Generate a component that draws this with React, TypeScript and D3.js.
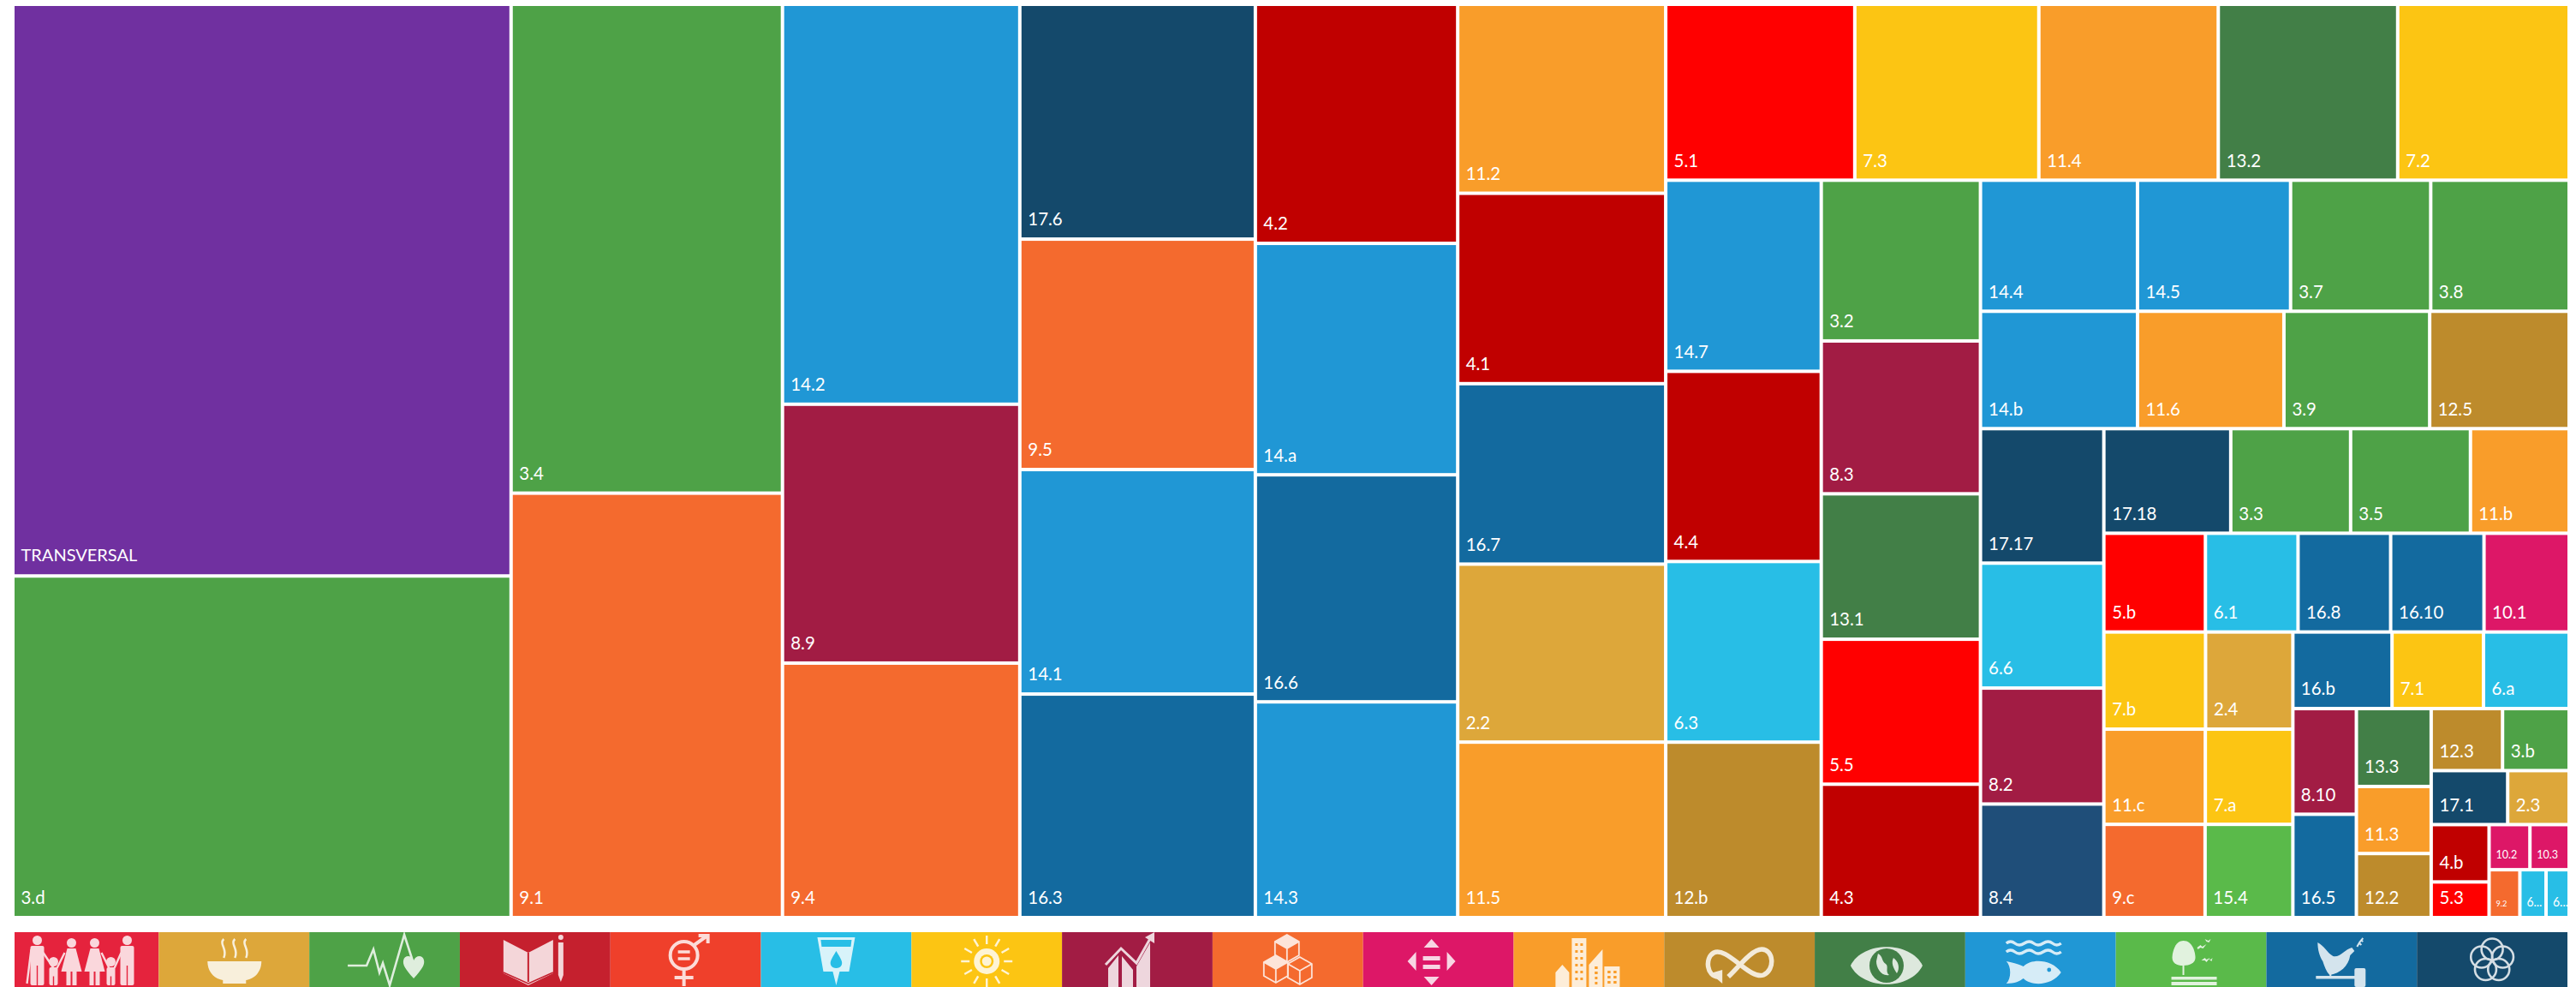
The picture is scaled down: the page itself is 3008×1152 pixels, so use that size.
import React from 'react';
import * as d3 from 'd3';

// goal numbers, with the colours of the tree cells and of the icon strip
const goals = ['1', '2', '3', '4', '5', '6', '7', '8', '9', '10', '11', '12', '13', '14', '15', '16', '17'];
const cellColors = ['#E5233D', '#DDA73A', '#4EA247', '#C00000', '#FF0000', '#28BEE6', '#FCC513', '#A21C44', '#F46A2E', '#DD1767', '#F99D2A', '#BD8B2C', '#427F47', '#2097D5', '#5ABA4A', '#136A9F', '#14496B'];
const iconColors = ['#E5233D', '#DDA73A', '#4EA247', '#C5202E', '#EF402B', '#28BEE6', '#FCC513', '#A21C44', '#F46A2E', '#DD1767', '#F99D2A', '#BD8B2C', '#427F47', '#2097D5', '#5ABA4A', '#136A9F', '#14496B'];
const transversalColor = '#7030A0';
const specialCells = { '8.4': '#1F4E79' };
const smallLabels = { '10.2': 13.5, '10.3': 13.5, '9.2': 10, '6...': 15 };

// nesting of the cells, columns and rows alternate at each level
const nesting = [
  ['TRANSVERSAL', '3.d'],
  ['3.4', '9.1'],
  ['14.2', '8.9', '9.4'],
  ['17.6', '9.5', '14.1', '16.3'],
  ['4.2', '14.a', '16.6', '14.3'],
  ['11.2', '4.1', '16.7', '2.2', '11.5'],
  [
    ['5.1', '7.3', '11.4', '13.2', '7.2'],
    [
      ['14.7', '4.4', '6.3', '12.b'],
      ['3.2', '8.3', '13.1', '5.5', '4.3'],
      [
        ['14.4', '14.5', '3.7', '3.8'],
        ['14.b', '11.6', '3.9', '12.5'],
        [
          ['17.17', '6.6', '8.2', '8.4'],
          [
            ['17.18', '3.3', '3.5', '11.b'],
            ['5.b', '6.1', '16.8', '16.10', '10.1'],
            [
              [['7.b', '2.4'], ['11.c', '7.a'], ['9.c', '15.4']],
              [
                ['16.b', '7.1', '6.a'],
                [
                  ['8.10', '16.5'],
                  ['13.3', '11.3', '12.2'],
                  [
                    ['12.3', '3.b'],
                    ['17.1', '2.3'],
                    [['4.b', '5.3'], [['10.2', '10.3'], ['9.2', '6...', '6...']]],
                  ],
                ],
              ],
            ],
          ],
        ],
      ],
    ],
  ],
];

// cell sizes, same order as the labels in nesting
const columnValues = [3862, 2308, 1799, 1562, 1287, 833, 819, 750, 736, 717, 714, 656, 635, 623, 592, 533, 537, 509, 502, 495];
const topRowValues = [451, 439, 428, 428, 409];
const middleValues = [403, 401, 381, 370, 347, 330, 314, 313, 288];
const rowValues = [279, 272, 249, 246, 250, 233, 232, 222];
const narrowValues = [225, 209, 194, 190, 180, 170, 170, 140, 136, 124, 124, 125, 114];
const lowerValues = [134, 115, 131, 113, 128, 111, 103, 95, 89, 91, 89, 79, 68, 65];
const tinyValues = [60, 56, 56, 45, 45, 28, 25, 24, 20, 17, 15];
const values = [...columnValues, ...topRowValues, ...middleValues, ...rowValues, ...narrowValues, ...lowerValues, ...tinyValues];

let cursor = 0;
const build = (n) => (Array.isArray(n) ? { children: n.map(build) } : { label: n, value: values[cursor++] });
const root = d3.hierarchy(build(nesting)).sum((d) => d.value || 0);
d3.treemap().tile(d3.treemapSliceDice).size([2981, 1062]).paddingInner(4)(root);

const color = d3.scaleOrdinal(goals, cellColors);
const cellFill = (label) => {
  if (label === 'TRANSVERSAL') return transversalColor;
  return specialCells[label] || color(label.split('.')[0]);
};

// strip of goal icons under the chart
const stripTop = 1088;
const stripBottom = 1152;
const stripX = d3.scaleBand(goals, [9.6, 2998]);

const Person = ({ x, top, w, dress, bg }) => {
  const r = w < 10 ? 4.5 : 5.5;
  const bodyTop = top + r * 2 + 1;
  return (
    <g>
      <circle cx={x} cy={top + r} r={r} />
      {dress ? (
        <>
          <path d={`M${x - 5} ${bodyTop}H${x + 5}L${x + 12} ${bodyTop + 27}H${x - 12}Z`} />
          <rect x={x - 6} y={bodyTop + 27} width={5} height={62 - bodyTop - 27} />
          <rect x={x + 1} y={bodyTop + 27} width={5} height={62 - bodyTop - 27} />
        </>
      ) : (
        <>
          <rect x={x - w / 2} y={bodyTop} width={w} height={62 - bodyTop} rx={2} />
          <rect x={x - 0.7} y={bodyTop + (62 - bodyTop) * 0.5} width={1.4} height={(62 - bodyTop) * 0.5} fill={bg} />
        </>
      )}
    </g>
  );
};

const Family = ({ bg }) => (
  <g>
    <Person x={-54} top={4} w={16} bg={bg} />
    <Person x={-35} top={29} w={10} bg={bg} />
    <Person x={-14} top={7} dress w={12} bg={bg} />
    <Person x={13} top={7} dress w={12} bg={bg} />
    <Person x={32} top={29} w={10} bg={bg} />
    <Person x={51} top={4} w={16} bg={bg} />
    <path d="M-47 24L-35 42M-22 24L-31 42M21 24L30 42M44 24L36 42M-61 20L-66 60" fill="none" stroke="#fff" strokeWidth={2.4} />
  </g>
);

const Bowl = () => (
  <g>
    {[-12, 1, 14].map((x) => (
      <path key={x} d={`M${x} 8C${x - 6} 14 ${x + 5} 20 ${x} 30`} fill="none" stroke="#fff" strokeWidth={2.5} />
    ))}
    <path d="M-31 34H32C32 48 22 55 14 56V60H-13V56C-21 55 -31 48 -31 34Z" />
  </g>
);

const Pulse = () => (
  <g>
    <path d="M-43 39H-21L-13 20L-6 47L-2 36L6 62L23 3L33 34" fill="none" stroke="#fff" strokeWidth={2.6} />
    <path d="M34 54C24 43 21 38 22 33C23 27 31 26 34 33C37 26 45 27 46 33C47 38 44 43 34 54Z" />
  </g>
);

const Book = ({ bg }) => (
  <g>
    <path d="M-37 9L-8 24L21 9V48L-8 62L-37 48Z" />
    <path d="M-8 24V58" stroke={bg} strokeWidth={2} fill="none" />
    <path d="M-37 47L-8 60L21 47" stroke={bg} strokeWidth={1.4} fill="none" />
    <circle cx={30} cy={6} r={3} />
    <path d="M27 12H33V50L30 58L27 50Z" />
  </g>
);

const Gender = () => (
  <g fill="none" stroke="#fff" strokeWidth={4}>
    <circle cx={-2} cy={27} r={16} />
    <path d="M10 15L24 5M15 4H26V13M-2 43V63M-13 53H9" />
    <path d="M-9 23H5M-9 31H5" strokeWidth={3.5} />
  </g>
);

const Water = ({ bg }) => (
  <g>
    <path d="M-22 6H22L15 46H4L0 62L-4 46H-15Z" />
    <path d="M-18 9H18L17 17H-17Z" fill={bg} />
    <path d="M0 22C-6 32 -8 35 -6 39C-4 43 4 43 6 39C8 35 6 32 0 22Z" fill={bg} />
  </g>
);

const Sun = ({ bg }) => (
  <g>
    <circle cx={0} cy={34} r={15} />
    <circle cx={0} cy={34} r={8} fill={bg} />
    <circle cx={0} cy={34} r={5.5} />
    {d3.range(12).map((i) => {
      const a = (i * Math.PI) / 6;
      return <path key={i} d={`M${Math.sin(a) * 20} ${34 - Math.cos(a) * 20}L${Math.sin(a) * 30} ${34 - Math.cos(a) * 30}`} stroke="#fff" strokeWidth={2.5} />;
    })}
  </g>
);

const Growth = () => (
  <g>
    <path d="M-34 42L-22 27V64H-34ZM-18 28L-5 44V64H-18ZM-1 40L15 12V64H-1Z" />
    <path d="M-37 38L-19 19L-1 36L17 4" fill="none" stroke="#fff" strokeWidth={3} />
    <path d="M9 6L20 0L20 13Z" />
  </g>
);

const Cube = ({ x, y, solid }) => (
  <g transform={`translate(${x},${y})`}>
    <path d="M0 -16L14 -8V8L0 16L-14 8V-8Z" fill="none" stroke="#fff" strokeWidth={1.8} />
    <path d="M-14 -8L0 0L14 -8M0 0V16" fill="none" stroke="#fff" strokeWidth={1.8} />
    {solid && <path d="M0 -16L14 -8L0 0L-14 -8Z" />}
  </g>
);

const Cubes = () => (
  <g>
    <Cube x={-1} y={19} solid />
    <Cube x={-14} y={43} solid />
    <Cube x={14} y={45} />
  </g>
);

const Arrows = () => (
  <g transform="translate(-8,0)">
    <path d="M0 8L9 18H-9ZM0 62L-9 52H9ZM-28 34L-18 23V45ZM28 34L18 23V45Z" />
    <rect x={-10} y={28} width={20} height={5} />
    <rect x={-10} y={38} width={20} height={5} />
  </g>
);

const City = ({ bg }) => (
  <g>
    <path d="M-39 64V47L-31 38L-23 47V64ZM-20 7H-3V64H-20ZM0 64V38L16 20V64ZM18 64V40H36V64Z" />
    {d3.range(6).map((i) => (
      <path key={i} d={`M-16 ${13 + i * 8}h3v3h-3ZM-10 ${13 + i * 8}h3v3h-3ZM22 ${45 + (i % 3) * 6}h3v3h-3ZM29 ${45 + (i % 3) * 6}h3v3h-3ZM7 ${40 + (i % 4) * 6}h3v3h-3Z`} fill={bg} />
    ))}
  </g>
);

const Infinity_ = () => (
  <g>
    <path d="M-25 52C-38 52 -41 30 -30 24C-15 16 12 56 28 50C42 44 40 20 26 20C14 20 -2 42 -13 52" fill="none" stroke="#fff" strokeWidth={5.5} />
    <path d="M-34 48L-20 44L-20 60Z" />
  </g>
);

const EyeGlobe = ({ bg }) => (
  <g transform="translate(-4,0)">
    <path d="M-42 39C-28 10 28 10 42 39C28 68 -28 68 -42 39Z" />
    <circle cx={0} cy={39} r={20} fill={bg} />
    <path d="M-10 25C-4 28 -6 34 -1 37C3 40 -2 46 3 50C-6 52 -12 42 -12 34ZM8 30C14 34 16 42 12 48C8 42 5 36 8 30Z" />
  </g>
);

const Fish = ({ bg }) => (
  <g transform="translate(-8,0)">
    {[13, 23].map((y) => (
      <path key={y} d={`M-32 ${y}q5 -4 10 0t11 0t11 0t11 0t11 0t10 0`} fill="none" stroke="#fff" strokeWidth={3.4} />
    ))}
    <path d="M-32 34C-22 36 -16 38 -12 40C-2 30 22 32 32 47C22 62 -2 64 -12 54C-16 57 -22 60 -32 60C-26 54 -26 40 -32 34Z" />
    <circle cx={18} cy={44} r={2.4} fill={bg} />
  </g>
);

const Tree = () => (
  <g>
    <path d="M-9 10C2 10 5 24 5 30C5 36 -2 39 -9 39C-17 39 -22 36 -22 30C-22 24 -19 10 -9 10Z" />
    <rect x={-10} y={39} width={2} height={11} />
    <rect x={-23} y={52} width={53} height={3.5} />
    <rect x={-23} y={58} width={53} height={4} />
    <path d="M7 18l4 -3l2 2l5 -3l-4 5l-3 -1l-3 2ZM16 8l4 2l3 -2l-2 4l-3 -1ZM12 33l4 -3l2 2l4 -2l-4 5l-2 -2ZM20 31l3 1l2 -2l-1 4Z" />
  </g>
);

const DoveGavel = () => (
  <g>
    <path d="M-28 12C-20 16 -17 24 -10 28C-2 30 4 20 12 18L15 22L10 27C8 40 -2 48 -14 50C-18 46 -20 40 -22 34C-26 28 -28 20 -28 12Z" />
    <path d="M18 17C20 13 22 10 25 7M20 12l3 3M22 9l3 2" fill="none" stroke="#fff" strokeWidth={2} />
    <rect x={-30} y={51} width={56} height={3.5} />
    <rect x={15} y={42} width={13} height={22} rx={2} />
    <rect x={-14} y={46} width={2} height={6} />
  </g>
);

const Wheel = () => (
  <g fill="none" stroke="#fff" strokeWidth={2.6}>
    {d3.range(5).map((i) => {
      const a = (i * 2 * Math.PI) / 5;
      return <circle key={i} cx={Math.sin(a) * 13} cy={33 - Math.cos(a) * 13} r={12.5} />;
    })}
  </g>
);

const icons = [Family, Bowl, Pulse, Book, Gender, Water, Sun, Growth, Cubes, Arrows, City, Infinity_, EyeGlobe, Fish, Tree, DoveGavel, Wheel];

const Label = ({ d }) => {
  const label = d.data.label;
  const small = smallLabels[label];
  const wide = label === 'TRANSVERSAL';
  const x = d.x0 + (small ? 6 : 7.5);
  const y = d.y1 - (small ? 11 : wide ? 15 : 13.6);
  return (
    <text
      transform={`translate(${x},${y}) scale(${wide ? 1 : 0.93},1)`}
      fill="#ffffff"
      fontFamily="Lato, sans-serif"
      fontSize={small || (wide ? 20 : 22)}
    >
      {label}
    </text>
  );
};

export default function App() {
  const leaves = root.leaves();
  return (
    <svg width={3008} height={1152} style={{ position: 'absolute', left: 0, top: 0, display: 'block', background: '#ffffff' }}>
      <g transform="translate(17,7)">
        {leaves.map((d, i) => (
          <g key={i}>
            <rect x={d.x0} y={d.y0} width={d.x1 - d.x0} height={d.y1 - d.y0} fill={cellFill(d.data.label)} />
            <Label d={d} />
          </g>
        ))}
      </g>
      {goals.map((g, i) => {
        const Icon = icons[i];
        const x = stripX(g);
        const left = Math.max(17, x);
        return (
          <g key={g}>
            <rect x={left} y={stripTop} width={x + stripX.bandwidth() - left} height={stripBottom - stripTop} fill={iconColors[i]} />
            <g transform={`translate(${x + stripX.bandwidth() / 2},${stripTop})`} fill="#ffffff" opacity={0.82}>
              <Icon bg={iconColors[i]} />
            </g>
          </g>
        );
      })}
    </svg>
  );
}
